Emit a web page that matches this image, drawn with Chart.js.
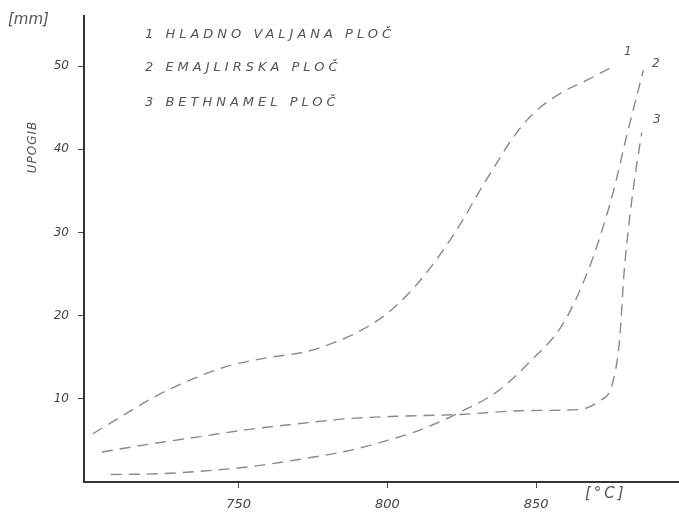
<!DOCTYPE html>
<html>
<head>
<meta charset="utf-8">
<script src="https://cdn.jsdelivr.net/npm/chart.js@4"></script>
<style>
  body { margin: 0; background: #fff; }
  #wrap { width: 679px; height: 515px; }
</style>
</head>
<body>
<div id="wrap"><canvas id="upogibchart" width="679" height="515"></canvas></div>
<script>
// series names (legend)
const seriesNames = ['HLADNO VALJANA PLOČ', 'EMAJLIRSKA PLOČ', 'BETHNAMEL PLOČ'];

// 1 - hladno valjana
const temp1 = [701, 712, 722, 734, 746, 759, 773, 783, 792, 800, 808, 817, 825, 831, 837, 842, 849, 858, 867, 875];
const upogib1 = [5.8, 8.2, 10.3, 12.3, 13.9, 14.9, 15.7, 16.9, 18.4, 20.3, 23.0, 27.0, 31.3, 35.0, 38.5, 41.3, 44.3, 46.7, 48.3, 49.8];

// 2 - emajlirska
const temp2 = [707, 724, 741, 753, 770, 786, 800, 812, 825, 837, 848, 859, 867, 871, 876, 880, 886];
const upogib2 = [0.9, 1.0, 1.4, 1.8, 2.7, 3.7, 5.0, 6.4, 8.5, 10.9, 14.5, 19.0, 25.0, 29.0, 35.0, 41.0, 49.5];

// 3 - bethnamel
const temp3 = [704, 719, 736, 753, 770, 786, 803, 823, 848, 864, 871, 875.5, 878, 879.5, 881.5, 883.5, 885.5];
const upogib3 = [3.6, 4.5, 5.4, 6.3, 7.0, 7.6, 7.9, 8.1, 8.6, 8.7, 9.7, 11.7, 17.0, 25.0, 32.0, 37.5, 42.0];

const xTicks = [750, 800, 850];
const yTicks = [10, 20, 30, 40, 50];

const toPoints = (xs, ys) => xs.map((x, i) => ({ x: x, y: ys[i] }));

const lineStyle = {
  borderColor: '#8a8a8a',
  borderWidth: 1.4,
  borderDash: [11, 7],
  pointRadius: 0,
  fill: false,
  cubicInterpolationMode: 'monotone'
};

const sketchText = {
  id: 'sketchText',
  afterDraw(chart) {
    const ctx = chart.ctx;
    ctx.save();
    ctx.fillStyle = '#555';
    ctx.textBaseline = 'middle';

    // legend
    ctx.font = 'italic 13px "DejaVu Sans"';
    ctx.letterSpacing = '4px';
    const legY = [35, 68, 103];
    seriesNames.forEach((name, i) => {
      ctx.fillText((i + 1) + ' ' + name, 145, legY[i]);
    });

    // curve numbers
    ctx.letterSpacing = '0px';
    ctx.font = 'italic 12px "DejaVu Sans"';
    ctx.fillText('1', 624, 52);
    ctx.fillText('2', 652, 64);
    ctx.fillText('3', 653, 120);

    // units
    ctx.font = 'italic 15px "DejaVu Sans"';
    ctx.fillText('[mm]', 8, 20);
    ctx.letterSpacing = '3px';
    ctx.fillText('[°C]', 585, 494);

    // y title
    ctx.letterSpacing = '1px';
    ctx.font = 'italic 12px "DejaVu Sans"';
    ctx.translate(33, 147);
    ctx.rotate(-Math.PI / 2);
    ctx.textAlign = 'center';
    ctx.fillText('UPOGIB', 0, 0);
    ctx.restore();
  }
};

const upogibconfig = {
  type: 'line',
  data: {
    datasets: [
      Object.assign({ label: seriesNames[0], data: toPoints(temp1, upogib1) }, lineStyle),
      Object.assign({ label: seriesNames[1], data: toPoints(temp2, upogib2) }, lineStyle),
      Object.assign({ label: seriesNames[2], data: toPoints(temp3, upogib3) }, lineStyle)
    ]
  },
  options: {
    responsive: false,
    animation: false,
    layout: { padding: { top: 15, right: 0, left: 0, bottom: 0 } },
    scales: {
      x: {
        type: 'linear',
        min: 698,
        max: 898,
        afterBuildTicks: (s) => { s.ticks = xTicks.map(v => ({ value: v })); },
        afterFit: (s) => { s.height = 33; },
        border: { display: true, color: '#333', width: 2 },
        grid: { drawOnChartArea: false, tickLength: 6, color: '#444' },
        ticks: {
          color: '#444',
          padding: 9,
          font: { family: 'DejaVu Sans', style: 'italic', size: 13 }
        }
      },
      y: {
        type: 'linear',
        min: 0,
        max: 56,
        afterBuildTicks: (s) => { s.ticks = yTicks.map(v => ({ value: v })); },
        afterFit: (s) => { s.width = 84; },
        border: { display: true, color: '#333', width: 2 },
        grid: { drawOnChartArea: false, tickLength: 6, color: '#444' },
        ticks: {
          color: '#444',
          padding: 9,
          font: { family: 'DejaVu Sans', style: 'italic', size: 12 }
        }
      }
    },
    plugins: {
      legend: { display: false },
      tooltip: { enabled: false }
    }
  },
  plugins: [sketchText]
};

const upogibchart = new Chart(
  document.getElementById('upogibchart'),
  upogibconfig
);
</script>
</body>
</html>
